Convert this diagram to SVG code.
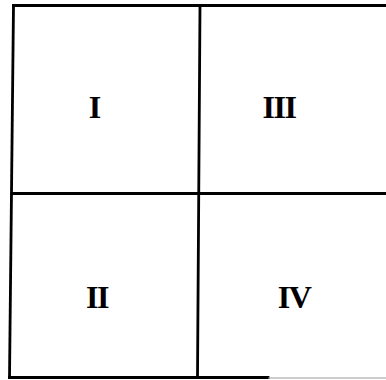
<svg xmlns="http://www.w3.org/2000/svg" width="386" height="380" viewBox="0 0 386 380">
<style>
.ln{stroke:#000;stroke-width:2.8;fill:none;stroke-linecap:square}
.faint{stroke:#999;stroke-width:1;fill:none}
.lbl{font-family:"Liberation Serif","Times New Roman",serif;font-weight:bold;font-size:32px;fill:#000;text-anchor:middle}
.tight{letter-spacing:-1.5px}
</style>
<rect width="386" height="380" fill="#fff"/>
<g id="connectors">
<line class="ln" x1="13.5" y1="5.5" x2="386" y2="5.5"/>
<line class="ln" x1="13.5" y1="5.5" x2="9.5" y2="377.5"/>
<line class="ln" x1="200" y1="5.5" x2="197.5" y2="377.5"/>
<line class="ln" x1="12" y1="193.5" x2="386" y2="193.5"/>
<line class="ln" x1="9.5" y1="377.5" x2="268" y2="377.5"/>
<line class="faint" x1="268" y1="378" x2="386" y2="378"/>
</g>
<g id="q1"><text class="lbl" x="95" y="118">I</text></g>
<g id="q3"><text class="lbl tight" x="279" y="118">III</text></g>
<g id="q2"><text class="lbl tight" x="97" y="308">II</text></g>
<g id="q4"><text class="lbl tight" x="294" y="308">IV</text></g>
</svg>
